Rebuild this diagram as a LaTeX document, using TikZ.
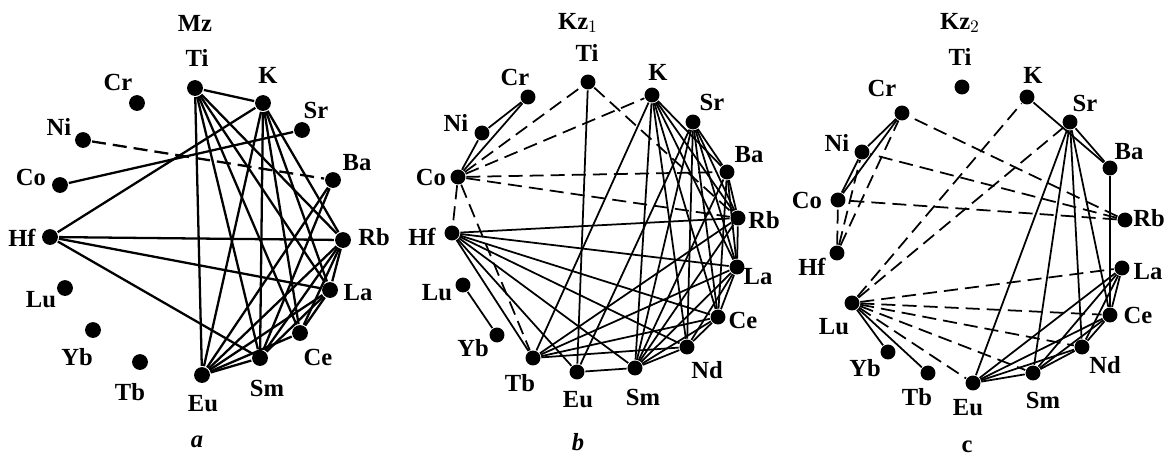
\documentclass[tikz,border=0pt]{standalone}
\usepackage{fontspec}
\setmainfont{Liberation Serif}
\begin{document}
\begin{tikzpicture}[x=0.02cm,y=-0.02cm,line width=1.3pt,
  dot/.style={circle,fill=black,inner sep=0pt,minimum size=9pt},
  lbl/.style={inner sep=0pt,font=\fontsize{14}{16}\selectfont\bfseries},
  dsh/.style={dash pattern=on 8pt off 4pt}]
\useasboundingbox (0,0) rectangle (1175,457);

% panel a
\node[lbl] at (195,23) (aT) {Mz};
\node[dot] at (195,88) (aTi) {};   \node[lbl] at (197,58) (aTiL) {Ti};
\node[dot] at (263,103) (aK) {};   \node[lbl] at (268,75) (aKL) {K};
\node[dot] at (302,130) (aSr) {};  \node[lbl] at (316,110) (aSrL) {Sr};
\node[dot] at (333,180) (aBa) {};  \node[lbl] at (357,163) (aBaL) {Ba};
\node[dot] at (343,240) (aRb) {};  \node[lbl] at (374,237) (aRbL) {Rb};
\node[dot] at (330,290) (aLa) {};  \node[lbl] at (358,293) (aLaL) {La};
\node[dot] at (300,333) (aCe) {};  \node[lbl] at (318,357) (aCeL) {Ce};
\node[dot] at (260,358) (aSm) {};  \node[lbl] at (267,388) (aSmL) {Sm};
\node[dot] at (202,375) (aEu) {};  \node[lbl] at (203,404) (aEuL) {Eu};
\node[dot] at (140,362) (aTb) {};  \node[lbl] at (130,392) (aTbL) {Tb};
\node[dot] at (93,330) (aYb) {};   \node[lbl] at (77,357) (aYbL) {Yb};
\node[dot] at (65,288) (aLu) {};   \node[lbl] at (41,300) (aLuL) {Lu};
\node[dot] at (50,237) (aHf) {};   \node[lbl] at (22,238) (aHfL) {Hf};
\node[dot] at (60,185) (aCo) {};   \node[lbl] at (31,177) (aCoL) {Co};
\node[dot] at (83,140) (aNi) {};   \node[lbl] at (59,127) (aNiL) {Ni};
\node[dot] at (137,103) (aCr) {};  \node[lbl] at (118,82) (aCrL) {Cr};
\node[lbl] at (197,442) (aC) {\itshape a};

\path (aTi) edge (aK) edge (aEu) edge (aSm) edge (aCe) edge (aLa) edge (aRb);
\path (aK) edge (aHf) edge (aEu) edge (aSm) edge (aCe) edge (aLa) edge (aRb);
\path (aCo) edge (aSr);
\path (aHf) edge (aRb) edge (aLa) edge (aSm);
\path (aEu) edge (aSm) edge (aCe) edge (aLa) edge (aRb) edge (aBa);
\path (aSm) edge (aLa) edge (aRb) edge (aBa);
\path (aCe) edge (aLa) edge (aRb);
\path (aLa) edge (aRb);
\path[dsh] (aNi) edge (aBa);

% panel b
\begin{scope}[line width=1pt,dot/.append style={minimum size=8.5pt}]
\node[lbl] at (578,23) (bT) {Kz$_1$};
\node[dot] at (588,82) (bTi) {};   \node[lbl] at (587,53) (bTiL) {Ti};
\node[dot] at (652,95) (bK) {};    \node[lbl] at (658,72) (bKL) {K};
\node[dot] at (693,122) (bSr) {};  \node[lbl] at (712,102) (bSrL) {Sr};
\node[dot] at (727,172) (bBa) {};  \node[lbl] at (749,155) (bBaL) {Ba};
\node[dot] at (738,218) (bRb) {};  \node[lbl] at (764,220) (bRbL) {Rb};
\node[dot] at (737,267) (bLa) {};  \node[lbl] at (758,277) (bLaL) {La};
\node[dot] at (718,317) (bCe) {};  \node[lbl] at (743,320) (bCeL) {Ce};
\node[dot] at (687,347) (bNd) {};  \node[lbl] at (707,370) (bNdL) {Nd};
\node[dot] at (635,368) (bSm) {};  \node[lbl] at (643,397) (bSmL) {Sm};
\node[dot] at (577,372) (bEu) {};  \node[lbl] at (578,400) (bEuL) {Eu};
\node[dot] at (533,358) (bTb) {};  \node[lbl] at (520,383) (bTbL) {Tb};
\node[dot] at (497,335) (bYb) {};  \node[lbl] at (473,348) (bYbL) {Yb};
\node[dot] at (463,285) (bLu) {};  \node[lbl] at (437,293) (bLuL) {Lu};
\node[dot] at (452,233) (bHf) {};  \node[lbl] at (422,237) (bHfL) {Hf};
\node[dot] at (458,177) (bCo) {};  \node[lbl] at (431,177) (bCoL) {Co};
\node[dot] at (482,133) (bNi) {};  \node[lbl] at (456,123) (bNiL) {Ni};
\node[dot] at (528,97) (bCr) {};   \node[lbl] at (515,77) (bCrL) {Cr};
\node[lbl] at (578,442) (bC) {\itshape b};

\path (bCr) edge (bNi) edge (bCo);
\path (bNi) edge (bCo);
\path (bLu) edge (bYb);
\path (bTi) edge (bEu);
\path (bHf) edge (bRb) edge (bLa) edge (bCe) edge (bNd) edge (bSm) edge (bEu) edge (bTb);
\path (bK) edge (bTb) edge (bSm) edge (bNd) edge (bCe) edge (bLa) edge (bRb) edge (bBa);
\path (bSr) edge (bEu) edge (bSm) edge (bNd) edge (bCe) edge (bLa) edge (bRb) edge (bBa);
\path (bBa) edge (bRb) edge (bLa) edge (bCe) edge (bSm);
\path (bTb) edge (bRb) edge (bLa) edge (bCe) edge (bNd);
\path (bEu) edge (bSm);
\path (bSm) edge (bRb) edge (bLa) edge (bCe) edge (bNd);
\path (bNd) edge (bCe) edge (bLa);
\path (bCe) edge (bLa);
\path (bLa) edge (bRb);
\path[dsh] (bCo) edge (bTi) edge (bK) edge (bBa) edge (bRb) edge (bHf) edge (bTb);
\path[dsh] (bTi) edge (bRb);
\end{scope}

% panel c
\begin{scope}[line width=1pt,dot/.append style={minimum size=8.5pt}]
\node[lbl] at (960,23) (cT) {Kz$_2$};
\node[dot] at (962,87) (cTi) {};   \node[lbl] at (960,57) (cTiL) {Ti};
\node[dot] at (1027,97) (cK) {};   \node[lbl] at (1033,75) (cKL) {K};
\node[dot] at (1070,122) (cSr) {}; \node[lbl] at (1085,103) (cSrL) {Sr};
\node[dot] at (1110,168) (cBa) {}; \node[lbl] at (1129,152) (cBaL) {Ba};
\node[dot] at (1125,220) (cRb) {}; \node[lbl] at (1149,218) (cRbL) {Rb};
\node[dot] at (1122,268) (cLa) {}; \node[lbl] at (1148,272) (cLaL) {La};
\node[dot] at (1110,315) (cCe) {}; \node[lbl] at (1138,315) (cCeL) {Ce};
\node[dot] at (1082,347) (cNd) {}; \node[lbl] at (1105,365) (cNdL) {Nd};
\node[dot] at (1033,373) (cSm) {}; \node[lbl] at (1043,400) (cSmL) {Sm};
\node[dot] at (973,383) (cEu) {};  \node[lbl] at (968,408) (cEuL) {Eu};
\node[dot] at (928,373) (cTb) {};  \node[lbl] at (917,397) (cTbL) {Tb};
\node[dot] at (888,352) (cYb) {};  \node[lbl] at (865,368) (cYbL) {Yb};
\node[dot] at (852,303) (cLu) {};  \node[lbl] at (834,327) (cLuL) {Lu};
\node[dot] at (837,253) (cHf) {};  \node[lbl] at (812,267) (cHfL) {Hf};
\node[dot] at (838,200) (cCo) {};  \node[lbl] at (807,200) (cCoL) {Co};
\node[dot] at (862,152) (cNi) {};  \node[lbl] at (837,143) (cNiL) {Ni};
\node[dot] at (902,113) (cCr) {};  \node[lbl] at (882,88) (cCrL) {Cr};
\node[lbl] at (967,447) (cC) {c};

\path (cCr) edge (cNi) edge (cCo);
\path (cNi) edge (cCo);
\path (cK) edge (cBa);
\path (cSr) edge (cBa) edge (cEu) edge (cSm) edge (cNd) edge (cCe);
\path (cBa) edge (cCe);
\path (cLu) edge (cYb) edge (cTb);
\path (cEu) edge (cSm) edge (cNd) edge (cCe) edge (cLa);
\path (cSm) edge (cNd) edge (cCe) edge (cLa);
\path (cNd) edge (cCe) edge (cLa);
\path (cCe) edge (cLa);
\path[dsh] (cHf) edge (cCr) edge (cNi) edge (cCo);
\path[dsh] (cRb) edge (cCr) edge (cNi) edge (cCo);
\path[dsh] (cLu) edge (cK) edge (cSr) edge (cLa) edge (cCe) edge (cNd) edge (cSm) edge (cEu);
\end{scope}
\end{tikzpicture}
\end{document}
